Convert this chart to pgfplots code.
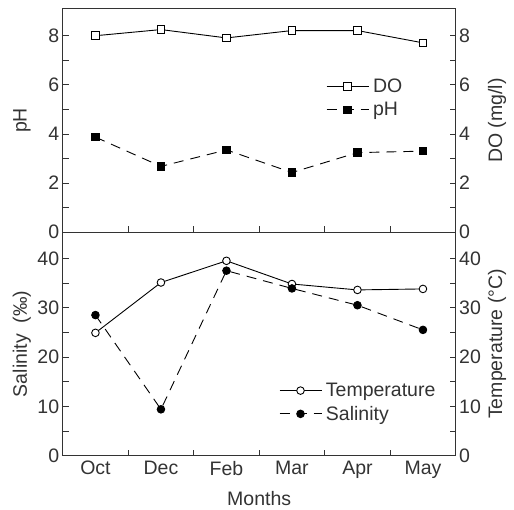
\documentclass[border=0pt]{standalone}
\usepackage{pgfplots}
\pgfplotsset{compat=1.18}
\usepackage{fontspec}
\setmainfont{Liberation Sans}
\definecolor{ink}{HTML}{333333}

\newcommand{\lblfont}{\fontsize{19.5}{22}\selectfont}
\newcommand{\tckfont}{\fontsize{19.5}{22}\selectfont}

\pgfplotsset{
  panel/.style={
    scale only axis, width=393pt, height=223.5pt,
    xmin=-0.5, xmax=5.5,
    axis line style={ink, line width=0.9pt},
    every tick/.style={ink, line width=0.8pt},
    tick align=inside,
    major tick length=6pt, minor tick length=6pt,
    tick label style={font=\tckfont, text=ink},
    label style={font=\lblfont, text=ink},
    /pgf/number format/assume math mode=true,
    xtick={0,...,5},
    minor xtick={0.5,1.5,2.5,3.5,4.5},
    major x tick style={draw=none},
    xtick pos=bottom,
    legend style={draw=none, fill=none, font=\lblfont, text=ink,
      inner sep=0pt, row sep=6pt, nodes={inner xsep=4pt, inner ysep=1pt}},
    legend cell align=left,
    legend image code/.code={
      \draw[mark repeat=2, mark phase=2, #1]
        plot coordinates {(0pt,0pt) (21pt,0pt) (42pt,0pt)};},
  },
  solidser/.style={black, line width=0.9pt, solid},
  dashser/.style={black, line width=0.9pt, dash pattern=on 10pt off 7pt},
}

\begin{document}
\begin{tikzpicture}
\useasboundingbox (-62.7pt,-54.3pt) rectangle (451.3pt,455.7pt);

% ---- top panel: pH (left) and DO (right), same scale
\begin{axis}[panel, at={(0,223.5pt)}, anchor=south west,
  ymin=0, ymax=9.1, ytick={0,2,4,6,8}, minor ytick={1,3,5,7},
  ytick pos=left, xticklabels={},
  ylabel={pH},
  ylabel style={at={(axis description cs:-0.104,0.5)}, anchor=center},
  legend style={at={(axis description cs:0.67,0.69)}, anchor=north west},
]
\addplot[solidser, mark=square*, mark size=3.8pt,
  mark options={solid, fill=white, draw=black}] coordinates {
  (0,8.00) (1,8.25) (2,7.91) (3,8.21) (4,8.21) (5,7.71)
};
\addlegendentry{DO}
\addplot[dashser, mark=square*, mark size=3.8pt,
  mark options={solid, fill=black}] coordinates {
  (0,3.87) (1,2.68) (2,3.35) (3,2.43) (4,3.24) (5,3.30)
};
\addlegendentry{pH}
\end{axis}

\begin{axis}[panel, at={(0,223.5pt)}, anchor=south west,
  ymin=0, ymax=9.1, ytick={0,2,4,6,8}, minor ytick={1,3,5,7},
  axis y line*=right, axis x line=none,
  ylabel={DO (mg/l)},
  ylabel style={at={(axis description cs:1.105,0.5)}, anchor=center},
]
\end{axis}

% ---- bottom panel: Salinity (left) and Temperature (right)
\begin{axis}[panel, at={(0,0)}, anchor=south west,
  ymin=0, ymax=45.3, ytick={0,10,20,30,40}, minor ytick={5,15,25,35},
  ytick pos=left,
  xticklabels={Oct,Dec,Feb,Mar,Apr,May},
  xticklabel style={yshift=-2pt},
  xlabel={Months},
  xlabel style={at={(axis description cs:0.5,-0.19)}, anchor=center},
  ylabel={Salinity\ \ (‰)},
  ylabel style={at={(axis description cs:-0.104,0.5)}, anchor=center},
  legend style={at={(axis description cs:0.55,0.33)}, anchor=north west},
]
\addplot[solidser, mark=*, mark size=3.8pt,
  mark options={solid, fill=white, draw=black}] coordinates {
  (0,24.9) (1,35.1) (2,39.5) (3,34.8) (4,33.6) (5,33.8)
};
\addlegendentry{Temperature}
\addplot[dashser, mark=*, mark size=3.8pt,
  mark options={solid, fill=black}] coordinates {
  (0,28.5) (1,9.4) (2,37.5) (3,33.9) (4,30.5) (5,25.5)
};
\addlegendentry{Salinity}
\end{axis}

\begin{axis}[panel, at={(0,0)}, anchor=south west,
  ymin=0, ymax=45.3, ytick={0,10,20,30,40}, minor ytick={5,15,25,35},
  axis y line*=right, axis x line=none,
  ylabel={Temperature (°C)},
  ylabel style={at={(axis description cs:1.105,0.5)}, anchor=center},
]
\end{axis}
\end{tikzpicture}
\end{document}
